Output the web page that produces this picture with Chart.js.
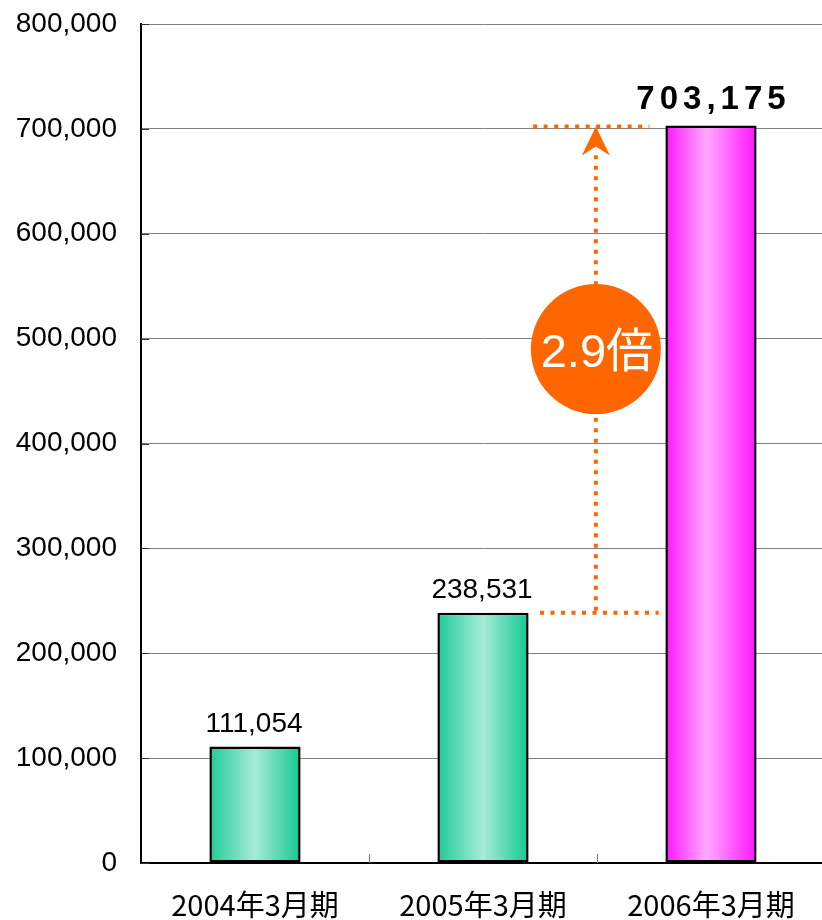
<!DOCTYPE html>
<html>
<head>
<meta charset="utf-8">
<script src="https://cdn.jsdelivr.net/npm/chart.js@4/dist/chart.umd.min.js"></script>
<style>
  html, body { margin: 0; padding: 0; background: #fff; overflow: hidden; }
  canvas { display: block; }
</style>
</head>
<body>
<canvas id="c" width="825" height="920" style="width:825px;height:920px"></canvas>
<script>
const categories = ['2004年3月期', '2005年3月期', '2006年3月期'];
const values = [111054, 238531, 703175];
const yMin = 0, yMax = 800000, yStep = 100000;
const growthText = '2.9倍';
// annotation geometry in data units (category index / value)
const arrowX = 1.495;
const lowLine = [1.25, 1.77];
const highLine = [1.22, 1.73];
const circleValue = 490000;

const gradStops = [
  [[0, '#1ecb97'], [0.5, '#a7ecd7'], [1, '#12c890']],
  [[0, '#1ecb97'], [0.5, '#a7ecd7'], [1, '#12c890']],
  [[0, '#ff14ff'], [0.45, '#ffaaff'], [1, '#ff14ff']]
];
const solidColors = ['#5fd9b4', '#5fd9b4', '#ff66ff'];

const gradientPlugin = {
  id: 'grad',
  beforeDatasetsDraw(chart) {
    const ctx = chart.ctx;
    chart.getDatasetMeta(0).data.forEach((el, i) => {
      const l = el.x - el.width / 2, r = el.x + el.width / 2;
      const g = ctx.createLinearGradient(l, 0, r, 0);
      gradStops[i].forEach(s => g.addColorStop(s[0], s[1]));
      el.options.backgroundColor = g;
    });
  }
};

const extrasPlugin = {
  id: 'extras',
  beforeDatasetsDraw(chart) {
    const ctx = chart.ctx, xs = chart.scales.x, ys = chart.scales.y;
    const ca = chart.chartArea;
    ctx.save();
    ctx.strokeStyle = '#333';
    ctx.lineWidth = 1;
    ys.ticks.forEach(t => {
      const y = Math.round(ys.getPixelForValue(t.value)) + 0.5;
      ctx.beginPath(); ctx.moveTo(ca.left, y); ctx.lineTo(ca.left + 8, y); ctx.stroke();
    });
    ctx.strokeStyle = '#777';
    for (let i = 0; i < categories.length - 1; i++) {
      const x = Math.round(xs.getPixelForValue(i + 0.5)) + 0.5;
      ctx.beginPath(); ctx.moveTo(x, ca.bottom); ctx.lineTo(x, ca.bottom - 9); ctx.stroke();
    }
    ctx.restore();
  },
  afterDatasetsDraw(chart) {
    const ctx = chart.ctx, xs = chart.scales.x, ys = chart.scales.y;
    const meta = chart.getDatasetMeta(0);
    ctx.save();
    meta.data.forEach((el, i) => {
      const txt = values[i].toLocaleString('en-US');
      ctx.fillStyle = '#000';
      ctx.textBaseline = 'alphabetic';
      if (i === values.length - 1) {
        ctx.font = 'bold 33px "Liberation Sans", Arial, sans-serif';
        ctx.letterSpacing = '5px';
        const w = ctx.measureText(txt).width - 5;
        ctx.textAlign = 'left';
        ctx.fillText(txt, el.x - w / 2, el.y - 17);
        ctx.letterSpacing = '0px';
      } else {
        ctx.font = '28px "Liberation Sans", Arial, sans-serif';
        ctx.textAlign = 'center';
        ctx.fillText(txt, el.x - 1, el.y - 15);
      }
    });

    const orange = '#ff6600';
    const yLow = ys.getPixelForValue(values[1]);
    const yHigh = ys.getPixelForValue(values[2]);
    const xa = xs.getPixelForValue(arrowX);
    ctx.strokeStyle = orange;
    ctx.fillStyle = orange;
    ctx.lineWidth = 4;
    ctx.setLineDash([4, 6.5]);
    ctx.lineCap = 'butt';
    ctx.beginPath();
    ctx.moveTo(xs.getPixelForValue(lowLine[0]), yLow);
    ctx.lineTo(xs.getPixelForValue(lowLine[1]), yLow);
    ctx.stroke();
    ctx.beginPath();
    ctx.moveTo(xs.getPixelForValue(highLine[0]), yHigh + 1);
    ctx.lineTo(xs.getPixelForValue(highLine[1]), yHigh + 1);
    ctx.stroke();
    ctx.beginPath();
    ctx.moveTo(xa, yLow - 2);
    ctx.lineTo(xa, yHigh + 24);
    ctx.stroke();
    ctx.setLineDash([]);
    const tip = yHigh + 1;
    ctx.beginPath();
    ctx.moveTo(xa, tip);
    ctx.lineTo(xa + 14, tip + 29);
    ctx.lineTo(xa, tip + 20);
    ctx.lineTo(xa - 14, tip + 29);
    ctx.closePath();
    ctx.fill();
    const cy = ys.getPixelForValue(circleValue);
    ctx.beginPath();
    ctx.arc(xa, cy, 65, 0, Math.PI * 2);
    ctx.fill();
    ctx.fillStyle = '#fff';
    ctx.font = '47px "Liberation Sans", "Noto Sans CJK JP", sans-serif';
    ctx.textAlign = 'center';
    ctx.textBaseline = 'middle';
    ctx.fillText(growthText, xa + 1, cy + 5);
    ctx.restore();
  }
};

new Chart(document.getElementById('c'), {
  type: 'bar',
  data: {
    labels: categories,
    datasets: [{
      data: values,
      backgroundColor: (c) => solidColors[c.dataIndex],
      borderColor: '#000',
      borderWidth: 2.5,
      borderSkipped: false,
      barPercentage: 0.4,
      categoryPercentage: 1.0
    }]
  },
  options: {
    responsive: false,
    animation: false,
    devicePixelRatio: 1,
    layout: { padding: { top: 24, right: 0, bottom: 0, left: 0 }, autoPadding: false },
    plugins: { legend: { display: false }, tooltip: { enabled: false } },
    scales: {
      x: {
        afterFit: (s) => { s.height = 57; s.paddingLeft = 0; s.paddingRight = 0; },
        grid: { display: true, drawOnChartArea: false, drawTicks: false, color: 'rgba(0,0,0,0)' },
        border: { display: true, color: '#000', width: 2 },
        ticks: {
          color: '#000',
          padding: 25,
          font: { family: '"Noto Sans CJK JP", sans-serif', size: 29 }
        }
      },
      y: {
        min: yMin, max: yMax,
        afterFit: (s) => { s.width = 141; s.paddingTop = 0; s.paddingBottom = 0; },
        grid: { color: '#808080', lineWidth: 1, drawTicks: false },
        border: { display: true, color: '#000', width: 2 },
        ticks: {
          stepSize: yStep,
          color: '#000',
          padding: 24,
          font: { family: '"Liberation Sans", Arial, sans-serif', size: 28 },
          callback: (v) => v.toLocaleString('en-US')
        }
      }
    }
  },
  plugins: [gradientPlugin, extrasPlugin]
});
</script>
</body>
</html>
